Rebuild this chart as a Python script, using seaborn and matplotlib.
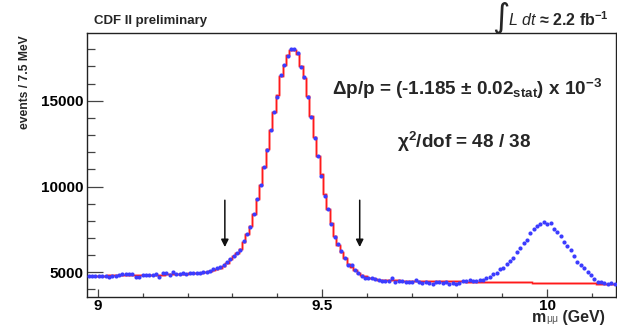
import numpy as np
import pandas as pd
import matplotlib
matplotlib.use("Agg")
import matplotlib.pyplot as plt
from matplotlib.ticker import MultipleLocator, FixedLocator
import seaborn as sns

# ---------------- data ----------------
bin_start = 8.98      # GeV, centre of first 7.5 MeV bin
bin_width = 0.0075
counts = [
    4784, 4790, 4775, 4784, 4765, 4784, 4709, 4765, 4800, 4843,
    4901, 4901, 4890, 4901, 4744, 4744, 4843, 4843, 4830, 4860,
    4901, 4744, 4942, 4942, 4825, 5000, 4901, 4880, 4977, 4901,
    4942, 4942, 4942, 4960, 5000, 5000, 5076, 5175, 5233, 5291,
    5400, 5600, 5790, 5940, 6145, 6280, 6820, 7225, 7635, 8410,
    9245, 10075, 11160, 12150, 13315, 14320, 15230, 16490, 17090, 17615,
    18005, 18005, 17770, 16935, 16355, 15230, 14070, 12850, 11800, 10640,
    9475, 8660, 7790, 7035, 6645, 6220, 5855, 5405, 5405, 5155,
    4960, 4785, 4670, 4670, 4650, 4610, 4551, 4511, 4511, 4493,
    4685, 4452, 4511, 4493, 4452, 4452, 4452, 4551, 4452, 4394,
    4452, 4394, 4318, 4417, 4417, 4359, 4417, 4336, 4394, 4318,
    4394, 4493, 4511, 4534, 4493, 4511, 4534, 4551, 4685, 4709,
    4901, 4977, 5192, 5233, 5466, 5659, 5833, 6166, 6434, 6690,
    6900, 7290, 7506, 7698, 7815, 7914, 7797, 7891, 7506, 7331,
    7133, 6783, 6550, 6300, 5967, 5583, 5425, 5233, 5000, 4843,
    4627, 4452, 4452, 4394, 4301, 4394, 4318,
]
fit = [
    4800, 4802, 4805, 4808, 4810, 4812, 4815, 4818, 4820, 4823,
    4826, 4829, 4832, 4835, 4838, 4841, 4845, 4849, 4853, 4857,
    4861, 4866, 4871, 4876, 4882, 4888, 4895, 4902, 4910, 4920,
    4932, 4946, 4962, 4982, 5006, 5040, 5080, 5130, 5190, 5270,
    5380, 5550, 5760, 5960, 6150, 6330, 6780, 7230, 7680, 8420,
    9250, 10100, 11150, 12200, 13300, 14350, 15350, 16450, 17100, 17650,
    17950, 17950, 17700, 17000, 16350, 15250, 14100, 12900, 11800, 10700,
    9550, 8700, 7850, 7100, 6600, 6200, 5820, 5480, 5300, 5130,
    4980, 4860, 4760, 4690, 4640, 4605, 4580, 4562, 4550, 4540,
    4533, 4528, 4524, 4520, 4517, 4514, 4511, 4508, 4505, 4502,
    4499, 4496, 4493, 4490, 4487, 4484, 4481, 4478, 4475, 4472,
    4469, 4466, 4463, 4460, 4457, 4454, 4451, 4448, 4445, 4442,
    4439, 4436, 4433, 4430, 4427, 4424, 4421, 4418, 4415, 4412,
    4409, 4406, 4403, 4400, 4397, 4394, 4391, 4388, 4385, 4382,
    4379, 4376, 4373, 4370, 4367, 4364, 4361, 4358, 4355, 4352,
    4349, 4346, 4343, 4340, 4337, 4334, 4331,
]
arrow_mass = [9.283, 9.583]
arrow_top = 9200
arrow_tip = 6470

x_ticks = [9, 9.5, 10]
x_ticklabels = ["9", "9.5", "10"]
y_ticks = [5000, 10000, 15000]
y_ticklabels = ["5000", "10000", "15000"]

mass = np.round(bin_start + bin_width * np.arange(len(counts)), 5)
df = pd.DataFrame({"mass": mass, "counts": counts, "fit": fit})

# ---------------- style ----------------
sns.set_theme(style="ticks")
plt.rcParams["font.family"] = ["Liberation Sans", "DejaVu Sans"]
plt.rcParams["mathtext.fontset"] = "custom"
plt.rcParams["mathtext.rm"] = "Liberation Sans:bold"
plt.rcParams["mathtext.it"] = "Liberation Sans:italic"
plt.rcParams["mathtext.bf"] = "Liberation Sans:bold"

W, H = 617, 325
fig = plt.figure(figsize=(W / 100, H / 100), dpi=100)
L, R, T, B = 87.3, 615.7, 33.3, 296.7
ax = fig.add_axes([L / W, 1 - B / H, (R - L) / W, (B - T) / H])
ax.set_facecolor("white")

sns.lineplot(data=df, x="mass", y="fit", ax=ax, color="#ffb0b0", lw=2.1,
             drawstyle="steps-mid", estimator=None, sort=False, zorder=2)
sns.lineplot(data=df, x="mass", y="fit", ax=ax, color="#ff1a1a", lw=1.0,
             drawstyle="steps-mid", estimator=None, sort=False, zorder=2.5)
sns.scatterplot(data=df, x="mass", y="counts", ax=ax, s=9, color="#3c3cff",
                linewidth=0, marker="o", zorder=3)

for m in arrow_mass:
    ax.annotate("", xy=(m, arrow_tip), xytext=(m, arrow_top),
                arrowprops=dict(arrowstyle="-|>", color="#111111", lw=1.1,
                                mutation_scale=11, shrinkA=0, shrinkB=0))

ax.set_xlim(8.977, 10.1525)
ax.set_ylim(3578, 18928)
ax.set_xlabel("")
ax.set_ylabel("")

ax.xaxis.set_major_locator(FixedLocator(x_ticks))
ax.set_xticklabels(x_ticklabels)
ax.yaxis.set_major_locator(FixedLocator(y_ticks))
ax.set_yticklabels(y_ticklabels)
ax.xaxis.set_minor_locator(MultipleLocator(0.1))
ax.yaxis.set_minor_locator(MultipleLocator(1000))

ax.tick_params(which="both", direction="in", color="#444444", width=0.9,
               top=False, right=False)
ax.tick_params(axis="x", which="major", length=5.8, pad=1.5)
ax.tick_params(axis="x", which="minor", length=2.9)
ax.tick_params(axis="y", which="major", length=11.5, pad=2.9)
ax.tick_params(axis="y", which="minor", length=5.8)
for lab in ax.get_xticklabels() + ax.get_yticklabels():
    lab.set_fontsize(11)
    lab.set_fontweight("bold")
    lab.set_color("black")

for s in ax.spines.values():
    s.set_visible(True)
    s.set_color("#222222")
    s.set_linewidth(1.0)

# ---------------- texts ----------------
def fx(px):
    return px / W

def fy(py):
    return 1 - py / H

fig.text(fx(25), fy(35), "events / 7.5 MeV", rotation=90, ha="center", va="top",
         fontsize=8.7, fontweight="bold")
fig.text(fx(94), fy(21), "CDF II preliminary", ha="left", va="center",
         fontsize=9.5, fontweight="bold")
fig.text(fx(492), fy(18), "\u222b", ha="left", va="center", fontsize=24,
         family=["DejaVu Sans"])
fig.text(fx(508), fy(26), "$\\mathit{L\\ dt}$ \u2248 2.2 fb$^{-1}$",
         ha="left", va="baseline", fontsize=11.5, fontweight="bold")
fig.text(fx(332), fy(95), "\u0394p/p = (-1.185 \u00b1 0.02$_{\\mathrm{stat}}$) x 10$^{-3}$",
         ha="left", va="baseline", fontsize=13.6, fontweight="bold")
fig.text(fx(397), fy(148), "\u03c7$^{2}$/dof = 48 / 38",
         ha="left", va="baseline", fontsize=13.6, fontweight="bold")

# x-axis title built from three pieces: m, small mu-mu subscript, (GeV)
renderer = fig.canvas.get_renderer()
t_gev = fig.text(fx(605), fy(322), " (GeV)", ha="right", va="baseline",
                 fontsize=11.5, fontweight="bold")
bb = t_gev.get_window_extent(renderer)
t_mu = fig.text(bb.x0 / W, fy(322.5), "\u03bc\u03bc", ha="right", va="baseline",
                fontsize=7.5, color="#555555")
bb2 = t_mu.get_window_extent(renderer)
fig.text(bb2.x0 / W, fy(322), "m", ha="right", va="baseline",
         fontsize=11.5, fontweight="bold")

fig.savefig("out.png", dpi=100)
